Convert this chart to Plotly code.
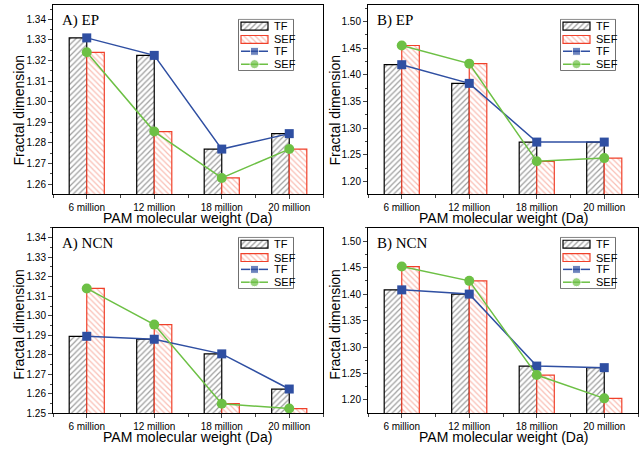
import plotly.graph_objects as go

categories = ["6 million", "12 million", "18 million", "20 million"]

ep_a_tf = [1.331, 1.3225, 1.277, 1.2845]
ep_a_sef = [1.324, 1.2855, 1.263, 1.277]
ep_b_tf = [1.419, 1.384, 1.274, 1.274]
ep_b_sef = [1.455, 1.421, 1.238, 1.244]
ncn_a_tf = [1.2895, 1.288, 1.2805, 1.2625]
ncn_a_sef = [1.314, 1.2955, 1.255, 1.2525]
ncn_b_tf = [1.408, 1.400, 1.264, 1.261]
ncn_b_sef = [1.452, 1.425, 1.247, 1.203]

panels = [
    ("A) EP", ep_a_tf, ep_a_sef, [1.255, 1.347], [1.26, 1.27, 1.28, 1.29, 1.30, 1.31, 1.32, 1.33, 1.34]),
    ("B) EP", ep_b_tf, ep_b_sef, [1.176, 1.531], [1.20, 1.25, 1.30, 1.35, 1.40, 1.45, 1.50]),
    ("A) NCN", ncn_a_tf, ncn_a_sef, [1.25, 1.345], [1.25, 1.26, 1.27, 1.28, 1.29, 1.30, 1.31, 1.32, 1.33, 1.34]),
    ("B) NCN", ncn_b_tf, ncn_b_sef, [1.1745, 1.525], [1.20, 1.25, 1.30, 1.35, 1.40, 1.45, 1.50]),
]
legend_names = ["TF", "SEF", "TF", "SEF"]
x_title = "PAM molecular weight (Da)"
y_title = "Fractal dimension"

W, H = 642, 452
xpix = [(53, 323), (368, 638)]
ypix = [(5, 197), (231, 419)]
ytitle_x = [19, 335]
ytitle_y = [112, 329]
legend_dx = [185, 192]
legend_dy = [14, 9]

BLUE = "#2f4fa2"
GREEN = "#6dc045"
RED = "#f0402a"
TF_HATCH = dict(shape="/", fgcolor="#3a3a3a", bgcolor="white", size=4, solidity=0.3)
SEF_HATCH = dict(shape="\\", fgcolor="#f47c68", bgcolor="white", size=4, solidity=0.3)

fig = go.Figure()
xpos = [0, 1, 2, 3]
bw = 0.26

layout = dict(width=W, height=H, margin=dict(l=0, r=0, t=0, b=0),
              paper_bgcolor="white", plot_bgcolor="rgba(0,0,0,0)", showlegend=False,
              font=dict(family="Liberation Sans, Arial", color="black", size=10),
              barmode="overlay", annotations=[])


def px_x(p):
    return p / W


def px_y(p):
    return 1 - p / H


for i, (label, tf, sef, yr, yt) in enumerate(panels):
    row, col = divmod(i, 2)
    n = "" if i == 0 else str(i + 1)
    xa, ya = "x" + n, "y" + n
    fig.add_trace(go.Bar(x=[p - bw / 2 for p in xpos], y=tf, width=bw, name="TF",
                         marker=dict(color="white", line=dict(color="black", width=1.2), pattern=TF_HATCH),
                         xaxis=xa, yaxis=ya))
    fig.add_trace(go.Bar(x=[p + bw / 2 for p in xpos], y=sef, width=bw, name="SEF",
                         marker=dict(color="white", line=dict(color=RED, width=1.2), pattern=SEF_HATCH),
                         xaxis=xa, yaxis=ya))
    fig.add_trace(go.Scatter(x=xpos, y=tf, mode="lines+markers", name="TF",
                             line=dict(color=BLUE, width=1.5),
                             marker=dict(symbol="square", size=9, color=BLUE),
                             xaxis=xa, yaxis=ya, cliponaxis=False))
    fig.add_trace(go.Scatter(x=xpos, y=sef, mode="lines+markers", name="SEF",
                             line=dict(color=GREEN, width=1.5),
                             marker=dict(symbol="circle", size=10, color=GREEN),
                             xaxis=xa, yaxis=ya, cliponaxis=False))
    x0, x1 = xpix[col]
    y0, y1 = ypix[row]
    layout["xaxis" + n] = dict(domain=[px_x(x0), px_x(x1)], anchor=ya, range=[-0.5, 3.5],
                               tickvals=xpos, ticktext=categories, ticks="outside", ticklen=4,
                               showline=True, linecolor="black", linewidth=1, mirror=True,
                               showgrid=False, zeroline=False, tickfont=dict(size=10),
                               minor=dict(tickvals=[-0.5, 0.5, 1.5, 2.5, 3.5], ticks="outside", ticklen=3))
    step = yt[1] - yt[0]
    minor_vals = [v + step / 2 for v in yt]
    layout["yaxis" + n] = dict(domain=[px_y(y1), px_y(y0)], anchor=xa, range=yr,
                               tickvals=yt, ticktext=["%.2f" % v for v in yt],
                               ticks="outside", ticklen=4,
                               minor=dict(tickvals=minor_vals, ticks="outside", ticklen=2),
                               showline=True, linecolor="black", linewidth=1, mirror=True,
                               showgrid=False, zeroline=False, tickfont=dict(size=10))
    # axis titles
    layout["annotations"].append(dict(x=px_x((x0 + x1) / 2), y=px_y(y1 + 24), xref="paper", yref="paper",
                                      xanchor="center", yanchor="middle", showarrow=False, text=x_title,
                                      font=dict(size=14)))
    layout["annotations"].append(dict(x=px_x(ytitle_x[col]), y=px_y(ytitle_y[row]), xref="paper", yref="paper",
                                      xanchor="center", yanchor="middle", showarrow=False, text=y_title,
                                      textangle=-90, font=dict(size=14)))
    # panel label
    layout["annotations"].append(dict(x=px_x(x0 + 7), y=px_y(y0 + 16), xref="paper", yref="paper",
                                      xanchor="left", yanchor="middle", showarrow=False, text=label,
                                      font=dict(family="Liberation Serif, Times New Roman", size=15)))

    # inset legend (own small axes, pixel units)
    k = str(5 + i)
    lx, ly = "x" + k, "y" + k
    lx0, lx1 = x0 + legend_dx[col], x0 + legend_dx[col] + 56
    ly0, ly1 = y0 + legend_dy[row], y0 + legend_dy[row] + 53
    layout["xaxis" + k] = dict(domain=[px_x(lx0), px_x(lx1)], anchor=ly, range=[0, 56], visible=False)
    layout["yaxis" + k] = dict(domain=[px_y(ly1), px_y(ly0)], anchor=lx, range=[53, 0], visible=False)
    # legend frame drawn as a white box with grey outline (drawn first, so it sits below)
    fig.add_trace(go.Bar(orientation="h", y=[26.5], x=[55], base=[0.5], width=[52],
                         marker=dict(color="white", line=dict(color="#6f6f6f", width=1)),
                         xaxis=lx, yaxis=ly, hoverinfo="skip"))
    fig.add_trace(go.Bar(orientation="h", y=[7.5], x=[27], base=[3], width=[8],
                         marker=dict(color="white", line=dict(color="black", width=1.2), pattern=TF_HATCH),
                         xaxis=lx, yaxis=ly, hoverinfo="skip"))
    fig.add_trace(go.Bar(orientation="h", y=[21], x=[27], base=[3], width=[8],
                         marker=dict(color="white", line=dict(color=RED, width=1.2), pattern=SEF_HATCH),
                         xaxis=lx, yaxis=ly, hoverinfo="skip"))
    fig.add_trace(go.Scatter(x=[3, 16.5, 30], y=[33, 33, 33], mode="lines+markers",
                             line=dict(color=BLUE, width=1.5),
                             marker=dict(symbol="square", size=[0, 8, 0], color=BLUE),
                             xaxis=lx, yaxis=ly, hoverinfo="skip", cliponaxis=False))
    fig.add_trace(go.Scatter(x=[3, 16.5, 30], y=[46, 46, 46], mode="lines+markers",
                             line=dict(color=GREEN, width=1.5),
                             marker=dict(symbol="circle", size=[0, 9, 0], color=GREEN),
                             xaxis=lx, yaxis=ly, hoverinfo="skip", cliponaxis=False))
    for ty, name in zip([7.5, 21, 33, 46], legend_names):
        layout["annotations"].append(dict(x=34, y=ty, xref=lx, yref=ly, xanchor="left", yanchor="middle",
                                          showarrow=False, text=name, font=dict(size=11)))

fig.update_layout(**layout)
fig.write_html("out.html")
